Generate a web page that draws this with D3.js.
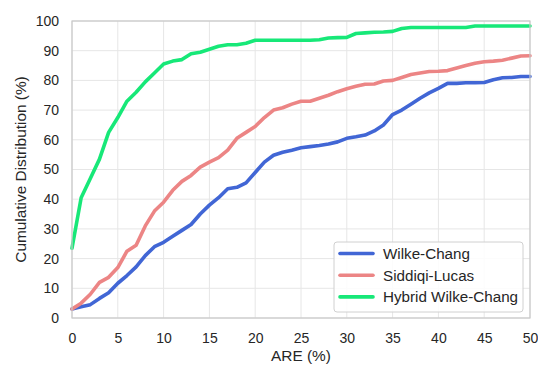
<!DOCTYPE html>
<html>
<head>
<meta charset="utf-8">
<script src="https://cdn.jsdelivr.net/npm/d3@7"></script>
<style>
  html, body { margin: 0; padding: 0; background: #fff; }
  svg { display: block; font-family: "Liberation Sans", Arial, sans-serif; }
</style>
</head>
<body>
<svg id="chart" width="538" height="365"></svg>
<script>
// ARE thresholds (%)
const areValues = d3.range(0, 51);

// Cumulative share of predictions (%) within each ARE threshold
const wilkeChang = [3, 3.8, 4.5, 6.6, 8.5, 11.7, 14.3, 17.2, 21, 24, 25.5,
  27.5, 29.5, 31.5, 35, 38, 40.5, 43.5, 44, 45.5, 49,
  52.5, 54.8, 55.8, 56.5, 57.3, 57.7, 58.1, 58.6, 59.3, 60.5,
  61, 61.6, 63, 65, 68.5, 70, 72, 74, 75.8, 77.3,
  79, 79, 79.2, 79.2, 79.3, 80.2, 80.9, 81, 81.3, 81.3];

const siddiqiLucas = [3, 5, 8, 12, 13.7, 17, 22.5, 24.5, 31, 36, 39,
  43, 46, 48, 50.8, 52.5, 54, 56.5, 60.5, 62.5, 64.5,
  67.5, 70, 70.8, 72, 73, 73, 74, 75, 76.2, 77.2,
  78, 78.7, 78.8, 79.8, 80, 81, 82, 82.5, 83, 83.1,
  83.3, 84.2, 85, 85.8, 86.3, 86.5, 86.8, 87.5, 88.2, 88.3];

const hybridWilkeChang = [23.5, 40.5, 47, 53.5, 62.5, 67.5, 73, 76, 79.5, 82.5, 85.5,
  86.5, 87, 89, 89.5, 90.5, 91.5, 92, 92, 92.5, 93.5,
  93.5, 93.5, 93.5, 93.5, 93.5, 93.5, 93.7, 94.3, 94.4, 94.5,
  95.8, 96, 96.2, 96.3, 96.5, 97.5, 97.8, 97.8, 97.8, 97.8,
  97.8, 97.8, 97.8, 98.3, 98.3, 98.3, 98.3, 98.3, 98.3, 98.3];

const seriesNames = ["Wilke-Chang", "Siddiqi-Lucas", "Hybrid Wilke-Chang"];
const seriesColors = ["#4166d5", "#ec8585", "#17e878"];
const xTicks = d3.range(0, 51, 5);
const yTicks = d3.range(0, 101, 10);

const series = [wilkeChang, siddiqiLucas, hybridWilkeChang].map((vals, i) => ({
  name: seriesNames[i],
  color: seriesColors[i],
  points: areValues.map((a, j) => [a, vals[j]])
}));

const svg = d3.select("#chart");
const margin = { left: 72, right: 8, top: 21, bottom: 47 };
const W = 538, H = 365;

const x = d3.scaleLinear().domain([0, 50]).range([margin.left, W - margin.right]);
const y = d3.scaleLinear().domain([0, 100]).range([H - margin.bottom, margin.top]);

// grid
const grid = svg.append("g");
grid.selectAll("line.gx").data(xTicks).join("line")
  .attr("x1", d => x(d)).attr("x2", d => x(d))
  .attr("y1", y(0)).attr("y2", y(100))
  .attr("stroke", "#e6e6e6").attr("stroke-width", 1);
grid.selectAll("line.gy").data(yTicks).join("line")
  .attr("y1", d => y(d)).attr("y2", d => y(d))
  .attr("x1", x(0)).attr("x2", x(50))
  .attr("stroke", "#e6e6e6").attr("stroke-width", 1);

// axes (tick labels only)
const xAxis = svg.append("g")
  .attr("transform", `translate(0,${y(0)})`)
  .call(d3.axisBottom(x).tickValues(xTicks).tickSize(0).tickPadding(15));
const yAxis = svg.append("g")
  .attr("transform", `translate(${x(0)},0)`)
  .call(d3.axisLeft(y).tickValues(yTicks).tickSize(0).tickPadding(13));
[xAxis, yAxis].forEach(g => {
  g.select(".domain").remove();
  g.selectAll("text").attr("font-size", 14).attr("fill", "#262626")
    .attr("font-family", "Liberation Sans, Arial, sans-serif");
});

// lines
const line = d3.line().x(d => x(d[0])).y(d => y(d[1]));
svg.append("g").selectAll("path").data(series).join("path")
  .attr("d", d => line(d.points))
  .attr("fill", "none")
  .attr("stroke", d => d.color)
  .attr("stroke-width", 3.6)
  .attr("stroke-linejoin", "round")
  .attr("stroke-linecap", "round");

// frame
svg.append("rect")
  .attr("x", x(0)).attr("y", y(100))
  .attr("width", x(50) - x(0)).attr("height", y(0) - y(100))
  .attr("fill", "none").attr("stroke", "#c9c9c9").attr("stroke-width", 1.2);

// axis titles
svg.append("text")
  .attr("x", (x(0) + x(50)) / 2).attr("y", 361)
  .attr("text-anchor", "middle").attr("font-size", 15.4).attr("fill", "#262626")
  .text("ARE (%)");
svg.append("text")
  .attr("transform", `translate(26,${(y(0) + y(100)) / 2}) rotate(-90)`)
  .attr("text-anchor", "middle").attr("font-size", 15.4).attr("fill", "#262626")
  .text("Cumulative Distribution (%)");

// legend
const legend = svg.append("g").attr("transform", "translate(334,242)");
legend.append("rect")
  .attr("width", 189).attr("height", 70).attr("rx", 3)
  .attr("fill", "#fff").attr("fill-opacity", 0.85)
  .attr("stroke", "#d0d0d0").attr("stroke-width", 1);
const items = legend.selectAll("g.item").data(series).join("g")
  .attr("transform", (d, i) => `translate(0,${11.5 + i * 21.7})`);
items.append("line")
  .attr("x1", 6).attr("x2", 39)
  .attr("stroke", d => d.color).attr("stroke-width", 3.6)
  .attr("stroke-linecap", "round");
items.append("text")
  .attr("x", 49).attr("y", 0).attr("dy", "0.35em")
  .attr("font-size", 15.2).attr("fill", "#262626")
  .text(d => d.name);
</script>
</body>
</html>
